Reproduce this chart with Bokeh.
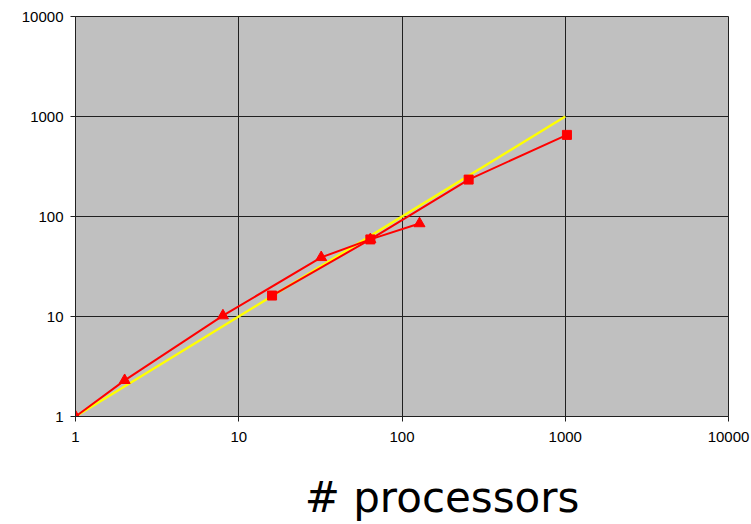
from bokeh.plotting import figure
from bokeh.models import Range1d, FixedTicker
from bokeh.embed import file_html
from bokeh.resources import INLINE

# Data
ideal_x = [1, 1000]
ideal_y = [1, 1000]

tri_x = [1, 2, 8, 32, 64, 128]
tri_y = [1, 2.3, 10.2, 39, 59, 85]

sq_x = [16, 64, 256, 1024]
sq_y = [16.2, 59, 234, 655]

tick_values = [1, 10, 100, 1000, 10000]
tick_labels = ["1", "10", "100", "1000", "10000"]
x_title = "# processors"

p = figure(frame_width=653, frame_height=400, x_axis_type="log", y_axis_type="log",
           x_range=Range1d(1, 10000), y_range=Range1d(1, 10000),
           output_backend="svg", toolbar_location=None,
           min_border_left=75, min_border_right=23, min_border_top=16,
           min_border_bottom=108)

p.background_fill_color = "#C0C0C0"
p.border_fill_color = "white"
p.outline_line_color = "#202020"
p.outline_line_width = 1

overrides = {v: l for v, l in zip(tick_values, tick_labels)}
for ax in (p.xaxis[0], p.yaxis[0]):
    ax.ticker = FixedTicker(ticks=tick_values, minor_ticks=[])
    ax.major_label_overrides = overrides
    ax.axis_line_color = "#202020"
    ax.major_tick_line_color = "#202020"
    ax.major_tick_out = 5
    ax.major_tick_in = 0
    ax.minor_tick_line_color = None
    ax.major_label_text_font = "Liberation Sans"
    ax.major_label_text_font_size = "15px"
    ax.major_label_text_color = "black"

p.xaxis[0].major_label_standoff = 10
p.yaxis[0].major_label_standoff = 7

# axis title, shifted right of the frame centre with leading no-break spaces
xa = p.xaxis[0]
xa.axis_label = "\u00a0" * 6 + x_title
xa.axis_label_text_font = "DejaVu Sans"
xa.axis_label_text_font_size = "42px"
xa.axis_label_text_font_style = "normal"
xa.axis_label_text_color = "black"
xa.axis_label_standoff = 28

p.xgrid.grid_line_color = "#202020"
p.ygrid.grid_line_color = "#202020"
p.xgrid.grid_line_width = 1
p.ygrid.grid_line_width = 1

p.line(ideal_x, ideal_y, line_color="#FFFF00", line_width=2.4)
p.line(tri_x, tri_y, line_color="#FF0000", line_width=2)
p.scatter(tri_x, tri_y, marker="triangle", size=11, fill_color="#FF0000",
          line_color="#FF0000")
p.line(sq_x, sq_y, line_color="#FF0000", line_width=2)
p.scatter(sq_x, sq_y, marker="square", size=9, fill_color="#FF0000",
          line_color="#FF0000")

open("out.html", "w").write(file_html(p, INLINE))
